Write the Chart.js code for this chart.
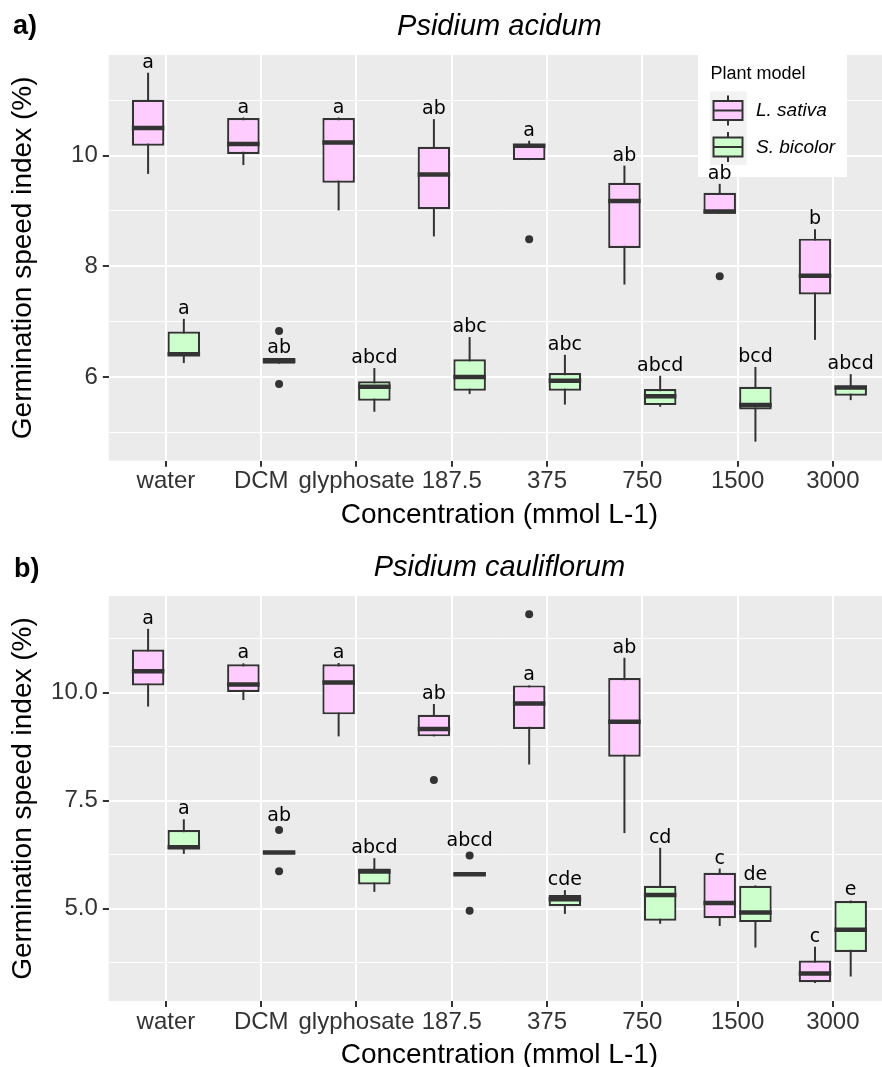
<!DOCTYPE html>
<html><head><meta charset="utf-8">
<script src="https://cdn.jsdelivr.net/npm/chart.js@4.4.1/dist/chart.umd.min.js"></script>
<style>
html,body{margin:0;padding:0;background:#fff;overflow:hidden;width:882px;height:1067px;position:relative;}
canvas{position:absolute;left:0;}
</style></head><body>
<canvas id="chartA" width="890" height="545" style="top:0px"></canvas>
<canvas id="chartB" width="890" height="545" style="top:533px"></canvas>
<script>
// ---------- DATA ----------
const categories = ['water', 'DCM', 'glyphosate', '187.5', '375', '750', '1500', '3000'];
const seriesNames = ['L. sativa', 'S. bicolor'];

// Panel a) Psidium acidum
const aSativaLow    = [9.67, 9.83, 9.01, 8.54, 9.92, 7.67, 8.95, 6.67];
const aSativaQ1     = [10.18, 10.03, 9.51, 9.03, 9.92, 8.33, 8.95, 7.49];
const aSativaMedian = [10.50, 10.21, 10.24, 9.66, 10.18, 9.18, 8.99, 7.83];
const aSativaQ3     = [11.01, 10.68, 10.68, 10.16, 10.21, 9.51, 9.33, 8.50];
const aSativaHigh   = [11.50, 10.69, 10.69, 10.66, 10.27, 9.82, 9.49, 8.67];
const aSativaOutliers = [[4, 8.49], [6, 7.82]];
const aSativaLetters  = ['a', 'a', 'a', 'ab', 'a', 'ab', 'ab', 'b'];
const aSativaLabelAt  = [null, null, null, null, null, null, null, null];

const aBicolorLow    = [6.25, 6.24, 5.37, 5.69, 5.50, 5.46, 4.83, 5.58];
const aBicolorQ1     = [6.38, 6.24, 5.57, 5.75, 5.75, 5.49, 5.41, 5.66];
const aBicolorMedian = [6.41, 6.29, 5.82, 6.00, 5.93, 5.65, 5.49, 5.81];
const aBicolorQ3     = [6.82, 6.34, 5.92, 6.32, 6.07, 5.78, 5.82, 5.84];
const aBicolorHigh   = [7.05, 6.34, 6.16, 6.72, 6.40, 6.02, 6.18, 6.05];
const aBicolorOutliers = [[1, 6.83], [1, 5.87]];
const aBicolorLetters  = ['a', 'ab', 'abcd', 'abc', 'abc', 'abcd', 'bcd', 'abcd'];
const aBicolorLabelAt  = [null, null, null, null, null, null, null, null];

const aYRange = [4.485, 11.82];
const aYMajor = [6, 8, 10];
const aYMajorLabels = ['6', '8', '10'];
const aYMinor = [5, 7, 9, 11];

// Panel b) Psidium cauliflorum
const bSativaLow    = [9.68, 9.83, 8.99, 8.99, 8.34, 6.75, 4.60, 3.28];
const bSativaQ1     = [10.17, 10.02, 9.50, 8.99, 9.16, 8.52, 4.78, 3.30];
const bSativaMedian = [10.50, 10.19, 10.24, 9.16, 9.75, 9.33, 5.13, 3.50];
const bSativaQ3     = [11.00, 10.66, 10.66, 9.49, 10.17, 10.34, 5.83, 3.80];
const bSativaHigh   = [11.48, 10.68, 10.69, 9.74, 10.17, 10.81, 5.93, 4.12];
const bSativaOutliers = [[3, 7.98], [4, 11.82]];
const bSativaLetters  = ['a', 'a', 'a', 'ab', 'a', 'ab', 'c', 'c'];
const bSativaLabelAt  = [null, null, null, null, null, null, null, null];

const bBicolorLow    = [6.27, 6.28, 5.39, 5.78, 4.88, 4.65, 4.10, 3.43];
const bBicolorQ1     = [6.38, 6.28, 5.56, 5.78, 5.06, 4.72, 4.69, 4.00];
const bBicolorMedian = [6.42, 6.30, 5.86, 5.80, 5.22, 5.32, 4.91, 4.51];
const bBicolorQ3     = [6.82, 6.32, 5.93, 5.82, 5.32, 5.53, 5.53, 5.18];
const bBicolorHigh   = [7.07, 6.32, 6.17, 5.82, 5.43, 6.41, 5.54, 5.19];
const bBicolorOutliers = [[1, 6.82], [1, 5.87], [3, 6.23], [3, 4.95]];
const bBicolorLetters  = ['a', 'ab', 'abcd', 'abcd', 'cde', 'cd', 'de', 'e'];
const bBicolorLabelAt  = [null, 6.92, null, 6.33, null, null, null, null];

const bYRange = [2.863, 12.24];
const bYMajor = [5, 7.5, 10];
const bYMajorLabels = ['5.0', '7.5', '10.0'];
const bYMinor = [3.75, 6.25, 8.75, 11.25];

// ---------- STYLE ----------
const FONT = '"Liberation Sans", Arial, Helvetica, sans-serif';
const PINK = '#FFCCFF';
const GREEN = '#CCFFCC';
const DARK = '#333333';

function makeDataset(name, color, lo, q1, med, q3, hi, outliers, letters, labelAt) {
  return {
    label: name,
    data: categories.map((c, i) => ({ x: i, y: [q1[i], q3[i]] })),
    backgroundColor: color,
    borderColor: DARK,
    borderWidth: 2.2,
    borderSkipped: false,
    categoryPercentage: 0.75,
    barPercentage: 0.91,
    stats: { lo, med, hi, outliers, letters, labelAt }
  };
}

const ggPlugin = {
  id: 'gg',
  beforeDraw(chart) {
    const { ctx, chartArea: a } = chart;
    ctx.save();
    ctx.fillStyle = '#EBEBEB';
    ctx.fillRect(a.left, a.top, a.right - a.left, a.bottom - a.top);
    ctx.restore();
  },
  beforeDatasetsDraw(chart) {
    const ctx = chart.ctx, ys = chart.scales.y;
    ctx.save();
    ctx.strokeStyle = DARK;
    ctx.lineWidth = 2;
    chart.data.datasets.forEach((ds, d) => {
      const meta = chart.getDatasetMeta(d);
      meta.data.forEach((el, i) => {
        ctx.beginPath();
        ctx.moveTo(el.x, ys.getPixelForValue(ds.stats.lo[i]));
        ctx.lineTo(el.x, ys.getPixelForValue(ds.stats.hi[i]));
        ctx.stroke();
      });
    });
    ctx.restore();
  },
  afterDatasetsDraw(chart) {
    const ctx = chart.ctx, ys = chart.scales.y;
    ctx.save();
    chart.data.datasets.forEach((ds, d) => {
      const meta = chart.getDatasetMeta(d);
      const st = ds.stats;
      // medians
      ctx.strokeStyle = DARK;
      ctx.lineWidth = 4.5;
      ctx.lineCap = 'butt';
      meta.data.forEach((el, i) => {
        const yp = ys.getPixelForValue(st.med[i]);
        ctx.beginPath();
        ctx.moveTo(el.x - el.width / 2, yp);
        ctx.lineTo(el.x + el.width / 2, yp);
        ctx.stroke();
      });
      // outliers
      ctx.fillStyle = DARK;
      st.outliers.forEach(([ci, v]) => {
        const el = meta.data[ci];
        ctx.beginPath();
        ctx.arc(el.x, ys.getPixelForValue(v), 4, 0, Math.PI * 2);
        ctx.fill();
      });
    });
    ctx.restore();
  },
  afterDraw(chart, args, opts) {
    const ctx = chart.ctx, ys = chart.scales.y;
    ctx.save();
    ctx.fillStyle = '#000';
    ctx.font = 'bold 27px ' + FONT;
    ctx.textAlign = 'left';
    ctx.textBaseline = 'middle';
    ctx.fillText(opts.tag, opts.tagX, opts.tagY);
    if (opts.legend) {
      const L = opts.legend;
      ctx.fillStyle = '#FFFFFF';
      ctx.fillRect(L.x, L.y, L.w, L.h);
      ctx.fillStyle = '#000';
      ctx.font = '18px ' + FONT;
      ctx.textBaseline = 'middle';
      ctx.fillText('Plant model', L.x + 12.5, L.y + 21);
      // key background
      ctx.fillStyle = '#F2F2F2';
      ctx.fillRect(L.x + 12, L.y + 38.5, 36.5, 73.5);
      const colors = [PINK, GREEN];
      seriesNames.forEach((name, k) => {
        const cy = L.y + 57.5 + k * 36.5;
        const cx = L.x + 30;
        ctx.strokeStyle = DARK;
        ctx.lineWidth = 2;
        ctx.beginPath();
        ctx.moveTo(cx, cy - 15); ctx.lineTo(cx, cy + 15); ctx.stroke();
        ctx.fillStyle = colors[k];
        ctx.fillRect(cx - 14.5, cy - 9.5, 29, 19);
        ctx.strokeRect(cx - 14.5, cy - 9.5, 29, 19);
        ctx.beginPath();
        ctx.moveTo(cx - 14.5, cy); ctx.lineTo(cx + 14.5, cy); ctx.stroke();
        ctx.fillStyle = '#000';
        ctx.font = 'italic 19px ' + FONT;
        ctx.fillText(name, L.x + 58, cy + 0.5);
      });
    }
    // significance letters (drawn last, above the legend)
    ctx.fillStyle = '#000';
    ctx.font = '19px "DejaVu Sans", sans-serif';
    ctx.textAlign = 'center';
    ctx.textBaseline = 'alphabetic';
    chart.data.datasets.forEach((ds, d) => {
      const meta = chart.getDatasetMeta(d);
      const st = ds.stats;
      meta.data.forEach((el, i) => {
        const anchor = st.labelAt[i] != null ? st.labelAt[i] : st.hi[i];
        ctx.fillText(st.letters[i], el.x, ys.getPixelForValue(anchor) - 5);
      });
    });
    ctx.restore();
  }
};

function makeChart(canvasId, cfg) {
  const majorSet = cfg.yMajor;
  const allTicks = cfg.yMajor.concat(cfg.yMinor).sort((p, q) => p - q);
  const isMajor = v => majorSet.indexOf(v) !== -1;
  return new Chart(document.getElementById(canvasId), {
    type: 'bar',
    data: { datasets: cfg.datasets },
    plugins: [ggPlugin],
    options: {
      responsive: false,
      animation: false,
      devicePixelRatio: 1,
      events: [],
      layout: { padding: 0 },
      plugins: {
        legend: { display: false },
        tooltip: { enabled: false },
        title: {
          display: true,
          text: cfg.title,
          fullSize: false,
          color: '#000',
          font: { family: FONT, size: 29, style: 'italic', weight: 'normal', lineHeight: 1.2 },
          padding: cfg.titlePadding
        },
        gg: { tag: cfg.tag, tagX: cfg.tagX, tagY: cfg.tagY, legend: cfg.legend }
      },
      scales: {
        x: {
          type: 'linear',
          min: -0.6,
          max: categories.length - 0.4,
          offset: false,
          afterBuildTicks: s => { s.ticks = categories.map((c, i) => ({ value: i })); },
          afterFit: s => { s.height = cfg.xHeight; },
          ticks: {
            autoSkip: false, maxRotation: 0, minRotation: 0,
            callback: v => categories[v],
            color: '#333',
            padding: cfg.xTickPad,
            font: { family: FONT, size: 24, lineHeight: 1.2 }
          },
          grid: { offset: false, color: '#FFFFFF', lineWidth: 2, drawTicks: true, tickLength: 6, tickColor: DARK, tickWidth: 2 },
          border: { display: false },
          title: {
            display: true, text: 'Concentration (mmol L-1)', color: '#000',
            font: { family: FONT, size: 28, lineHeight: 1.2 },
            padding: { top: 0, bottom: cfg.xTitlePad }
          }
        },
        y: {
          type: 'linear',
          min: cfg.yRange[0],
          max: cfg.yRange[1],
          beginAtZero: false,
          afterBuildTicks: s => { s.ticks = allTicks.map(v => ({ value: v })); },
          afterFit: s => { s.width = 108.8; },
          ticks: {
            callback: v => isMajor(v) ? cfg.yMajorLabels[majorSet.indexOf(v)] : '',
            color: '#333',
            padding: 5,
            font: { family: FONT, size: 24, lineHeight: 1.2 }
          },
          grid: {
            color: '#FFFFFF',
            lineWidth: c => (c.tick && isMajor(c.tick.value)) ? 2 : 1,
            drawTicks: true,
            tickLength: 6,
            tickWidth: 2,
            tickColor: c => (c.tick && isMajor(c.tick.value)) ? DARK : 'rgba(0,0,0,0)'
          },
          border: { display: false },
          title: {
            display: true, text: 'Germination speed index (%)', color: '#000',
            font: { family: FONT, size: 28, lineHeight: 1.2 },
            padding: { top: 6.5, bottom: 0 }
          }
        }
      }
    }
  });
}

makeChart('chartA', {
  title: 'Psidium acidum',
  titlePadding: { top: 9.3, bottom: 10.9 },
  tag: 'a)', tagX: 13, tagY: 27,
  legend: { x: 698, y: 53, w: 149, h: 124 },
  xHeight: 84.3, xTickPad: 0, xTitlePad: 13.2,
  yRange: aYRange, yMajor: aYMajor, yMajorLabels: aYMajorLabels, yMinor: aYMinor,
  datasets: [
    makeDataset(seriesNames[0], PINK, aSativaLow, aSativaQ1, aSativaMedian, aSativaQ3, aSativaHigh, aSativaOutliers, aSativaLetters, aSativaLabelAt),
    makeDataset(seriesNames[1], GREEN, aBicolorLow, aBicolorQ1, aBicolorMedian, aBicolorQ3, aBicolorHigh, aBicolorOutliers, aBicolorLetters, aBicolorLabelAt)
  ]
});

makeChart('chartB', {
  title: 'Psidium cauliflorum',
  titlePadding: { top: 17.9, bottom: 10.3 },
  tag: 'b)', tagX: 14, tagY: 37,
  legend: null,
  xHeight: 77, xTickPad: 0.7, xTitlePad: 6.2,
  yRange: bYRange, yMajor: bYMajor, yMajorLabels: bYMajorLabels, yMinor: bYMinor,
  datasets: [
    makeDataset(seriesNames[0], PINK, bSativaLow, bSativaQ1, bSativaMedian, bSativaQ3, bSativaHigh, bSativaOutliers, bSativaLetters, bSativaLabelAt),
    makeDataset(seriesNames[1], GREEN, bBicolorLow, bBicolorQ1, bBicolorMedian, bBicolorQ3, bBicolorHigh, bBicolorOutliers, bBicolorLetters, bBicolorLabelAt)
  ]
});
</script>
</body></html>
